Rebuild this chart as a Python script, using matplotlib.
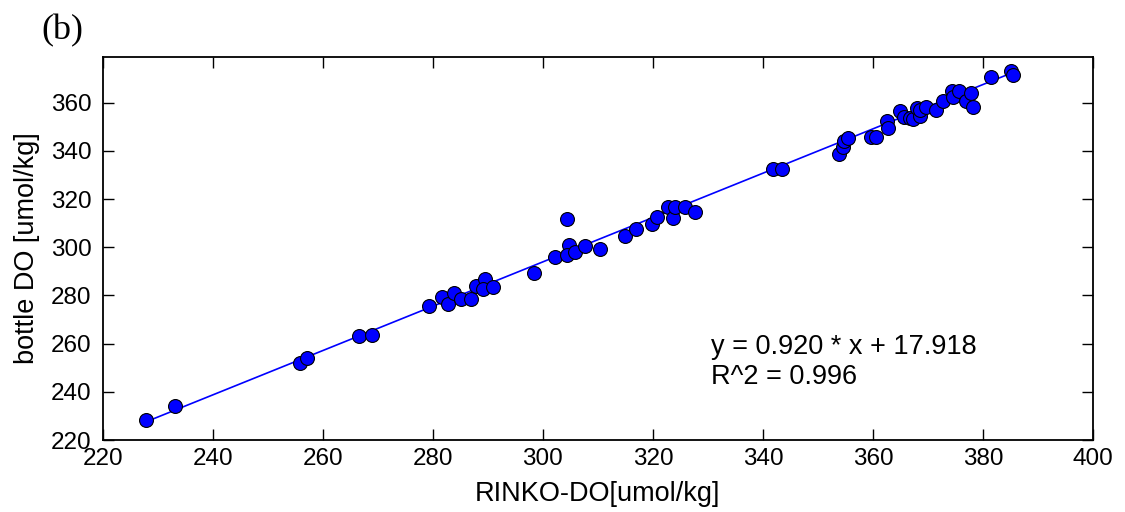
import matplotlib
matplotlib.use("Agg")
import matplotlib.pyplot as plt
import numpy as np

# RINKO-DO vs bottle DO samples
rinko_do = [227.9, 233.2, 255.9, 257.2, 266.5, 268.9, 279.3, 281.6, 282.8, 283.8,
            285.2, 286.9, 287.8, 289.5, 289.1, 291.0, 298.3, 302.2, 304.3, 304.8,
            304.3, 305.8, 307.6, 310.4, 314.9, 316.9, 319.8, 320.7, 322.8, 323.7,
            324.0, 325.8, 327.6, 341.9, 343.4, 353.9, 354.6, 354.8, 355.5, 359.6,
            360.5, 362.5, 362.8, 365.0, 365.6, 366.7, 367.3, 368.0, 368.5, 368.6,
            369.6, 371.4, 372.8, 374.3, 374.6, 375.7, 376.9, 377.9, 378.1, 381.5,
            385.1, 385.5]
bottle_do = [228.3, 234.1, 252.1, 253.9, 263.2, 263.6, 275.6, 279.2, 276.4, 281.1,
             278.4, 278.4, 283.9, 286.7, 282.5, 283.4, 289.2, 295.8, 311.6, 300.9,
             296.8, 298.1, 300.5, 299.1, 304.6, 307.4, 309.6, 312.7, 316.6, 312.0,
             316.8, 316.6, 314.7, 332.3, 332.3, 338.7, 341.7, 344.2, 345.2, 345.6,
             345.6, 352.5, 349.3, 356.6, 354.2, 353.5, 353.1, 357.6, 354.4, 356.9,
             358.3, 356.9, 360.8, 364.9, 362.4, 364.9, 360.8, 364.1, 358.1, 370.7,
             373.2, 371.5]

slope = 0.920
intercept = 17.918
r2 = 0.996

x_ticks = [220, 240, 260, 280, 300, 320, 340, 360, 380, 400]
y_ticks = [220, 240, 260, 280, 300, 320, 340, 360]

plt.rcParams["font.family"] = ["Liberation Sans", "DejaVu Sans"]

fig = plt.figure(figsize=(11.25, 5.12), dpi=100)
ax = fig.add_axes([0.0913, 0.1406, 0.8803, 0.7484])

ax.plot(rinko_do, bottle_do, "o", markerfacecolor="#0000ff", markeredgecolor="black",
        markeredgewidth=0.8, markersize=10, zorder=3)

fit_x = np.array([min(rinko_do), max(rinko_do)])
ax.plot(fit_x, slope * fit_x + intercept, color="#0000ff", linewidth=1.2, zorder=2)

ax.text(330.5, 252.5, f"y = {slope:.3f} * x + {intercept:.3f}\nR^2 = {r2:.3f}",
        fontsize=19.5, va="center", ha="left", linespacing=1.2)

ax.set_xlim(220, 400)
ax.set_ylim(220, 379)
ax.set_xticks(x_ticks)
ax.set_yticks(y_ticks)
ax.tick_params(direction="in", top=True, right=True, length=8, width=1,
               labelsize=17.5)
ax.tick_params(axis="x", pad=6)
ax.tick_params(axis="y", pad=8)
for spine in ax.spines.values():
    spine.set_linewidth(1.3)

ax.set_xlabel("RINKO-DO[umol/kg]", fontsize=19.5, labelpad=8)
ax.set_ylabel("bottle DO [umol/kg]", fontsize=19.5, labelpad=8)

fig.text(0.037, 0.94, "(b)", fontsize=26, family=["Liberation Serif", "DejaVu Serif"],
         va="center", ha="left")

fig.savefig("out.png", dpi=100)
